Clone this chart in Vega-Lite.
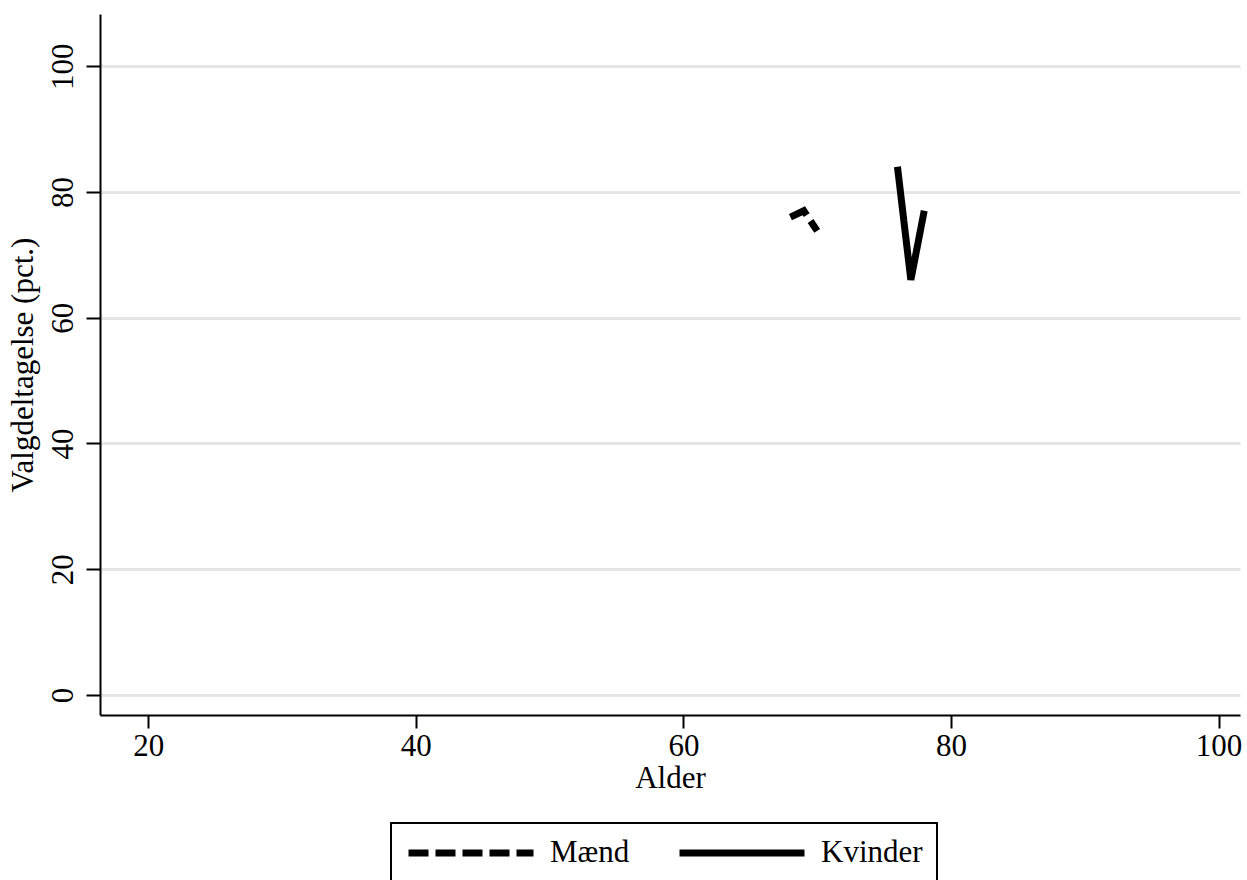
{
  "$schema": "https://vega.github.io/schema/vega-lite/v6.json",
  "width": 1140,
  "height": 701,
  "autosize": {"type": "none"},
  "padding": {"left": 100, "top": 14, "right": 7, "bottom": 165},
  "background": "white",
  "config": {
    "view": {"stroke": null},
    "font": "Liberation Serif",
    "axis": {"labelFont": "Liberation Serif", "titleFont": "Liberation Serif", "labelColor": "black", "titleColor": "black", "titleFontWeight": "normal"},
    "legend": {"labelFont": "Liberation Serif"}
  },
  "data": {
    "values": [
      {"Alder": 68, "Valgdeltagelse": 76.0, "Koen": "Mænd"},
      {"Alder": 69, "Valgdeltagelse": 77.0, "Koen": "Mænd"},
      {"Alder": 70, "Valgdeltagelse": 73.8, "Koen": "Mænd"},
      {"Alder": 76, "Valgdeltagelse": 84.0, "Koen": "Kvinder"},
      {"Alder": 77, "Valgdeltagelse": 66.0, "Koen": "Kvinder"},
      {"Alder": 78, "Valgdeltagelse": 77.0, "Koen": "Kvinder"}
    ]
  },
  "mark": {"type": "line", "color": "black", "strokeWidth": 7, "strokeCap": "butt", "strokeJoin": "miter", "clip": true},
  "encoding": {
    "x": {
      "field": "Alder", "type": "quantitative",
      "scale": {"domain": [16.4, 101.6], "nice": false, "zero": false},
      "axis": {
        "title": "Alder", "values": [20, 40, 60, 80, 100], "grid": false,
        "domainColor": "black", "domainWidth": 2, "tickColor": "black", "tickWidth": 2, "tickSize": 13,
        "labelFontSize": 31, "labelPadding": 3, "titleFontSize": 31, "titlePadding": 2,
        "labelFlush": false
      }
    },
    "y": {
      "field": "Valgdeltagelse", "type": "quantitative",
      "scale": {"domain": [-3.2, 108.3], "nice": false, "zero": false},
      "axis": {
        "title": "Valgdeltagelse (pct.)", "values": [0, 20, 40, 60, 80, 100],
        "grid": true, "gridColor": "#e6e6e6", "gridWidth": 3,
        "domainColor": "black", "domainWidth": 2, "tickColor": "black", "tickWidth": 2, "tickSize": 14,
        "labelAngle": -90, "labelAlign": "center", "labelBaseline": "alphabetic", "labelPadding": 14,
        "labelFontSize": 31, "titleFontSize": 31, "titlePadding": 8, "labelFlush": false
      }
    },
    "strokeDash": {
      "field": "Koen", "type": "nominal",
      "scale": {"domain": ["Mænd", "Kvinder"], "range": [[20, 7], [1, 0]]},
      "legend": {
        "title": null, "orient": "none", "direction": "horizontal",
        "legendX": 291, "legendY": 809,
        "symbolType": "M-1,0H9", "symbolSize": 625, "symbolStrokeWidth": 7, "symbolStrokeColor": "black",
        "symbolFillColor": "transparent",
        "labelFontSize": 31, "labelColor": "black", "labelOffset": 113, "columnPadding": 35,
        "padding": 14, "strokeColor": "black",
        "encode": {"legend": {"update": {"strokeWidth": {"value": 2}}}}
      }
    }
  }
}
